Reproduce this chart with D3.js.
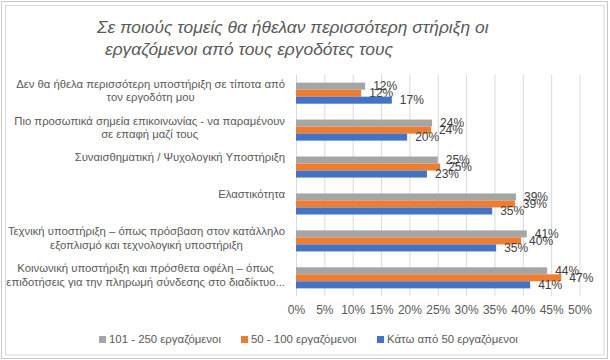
<!DOCTYPE html>
<html><head><meta charset="utf-8">
<script src="https://cdn.jsdelivr.net/npm/d3@7/dist/d3.min.js"></script>
<style>body{margin:0;background:#fff}svg{display:block}</style>
</head><body><svg id="c" width="610" height="360"></svg>
<script>
const titleLines = ["Σε ποιούς τομείς θα ήθελαν περισσότερη στήριξη οι", "εργαζόμενοι από τους εργοδότες τους"];
const categories = [
  ["Δεν θα ήθελα περισσότερη υποστήριξη σε τίποτα από", "τον εργοδότη μου"],
  ["Πιο προσωπικά σημεία επικοινωνίας - να παραμένουν", "σε επαφή μαζί τους"],
  ["Συναισθηματική / Ψυχολογική Υποστήριξη"],
  ["Ελαστικότητα"],
  ["Τεχνική υποστήριξη – όπως πρόσβαση στον κατάλληλο", "εξοπλισμό και τεχνολογική υποστήριξη"],
  ["Κοινωνική υποστήριξη και πρόσθετα οφέλη – όπως", "επιδοτήσεις για την πληρωμή σύνδεσης στο διαδίκτυο..."]
];
const seriesNames = ["101 - 250 εργαζόμενοι", "50 - 100 εργαζόμενοι", "Κάτω από 50 εργαζόμενοι"];
const seriesColors = ["#a5a5a5", "#ed7d31", "#4472c4"];
const values101_250 = [0.122, 0.240, 0.250, 0.388, 0.407, 0.443];
const values50_100  = [0.115, 0.238, 0.254, 0.386, 0.397, 0.468];
const valuesUnder50 = [0.169, 0.196, 0.231, 0.346, 0.353, 0.413];
const xTicks = [0, 0.05, 0.10, 0.15, 0.20, 0.25, 0.30, 0.35, 0.40, 0.45, 0.50];

const series = [values101_250, values50_100, valuesUnder50];
const svg = d3.select("#c");
const font = "'Liberation Sans', Arial, sans-serif";
const txt = "#595959";

// frame
svg.append("rect").attr("x",5.5).attr("y",5.5).attr("width",598.5).attr("height",349.5)
  .attr("fill","none").attr("stroke","#d9d9d9");
svg.append("rect").attr("x",1.5).attr("y",1.5).attr("width",606).attr("height",357)
  .attr("fill","none").attr("stroke","#c8c8c8");

const x = d3.scaleLinear().domain([0,0.5]).range([296,579.5]);
const idx = d3.range(categories.length);
const y = d3.scaleBand().domain(idx).range([74.7,296.3]).paddingInner(0.43).paddingOuter(0.215);
const ys = d3.scaleBand().domain(d3.range(series.length)).range([0,y.bandwidth()]);

// title
svg.append("g").selectAll("text").data(titleLines).join("text")
  .attr("x",(d,i)=> i===0 ? 97 : 105).attr("y",(d,i)=> 33 + i*22)
  .attr("font-family",font).attr("font-style","italic").attr("font-size",17.4)
  .attr("fill",txt).text(d=>d);

// grid
const xAxis = d3.axisBottom(x).tickValues(xTicks).tickFormat(d3.format(".0%")).tickSize(-(296.3-74.7)).tickPadding(9);
const gx = svg.append("g").attr("transform","translate(0,296.3)").call(xAxis);
gx.select(".domain").remove();
gx.selectAll(".tick line").attr("stroke","#d9d9d9");
gx.selectAll(".tick text").attr("font-family",font).attr("font-size",12).attr("fill",txt);

// bars
const g = svg.append("g");
series.forEach((vals,si)=>{
  g.selectAll(null).data(vals).join("rect")
    .attr("x",x(0)).attr("y",(d,i)=>y(i)+ys(si))
    .attr("width",d=>x(d)-x(0)).attr("height",ys.bandwidth())
    .attr("fill",seriesColors[si]);
  g.selectAll(null).data(vals).join("text")
    .attr("x",d=>x(d)+8).attr("y",(d,i)=>y(i)+ys(si)+ys.bandwidth()/2)
    .attr("dy","0.35em").attr("font-family",font).attr("font-size",12).attr("fill","#404040")
    .text(d=>d3.format(".0%")(d));
});

// category labels
categories.forEach((lines,i)=>{
  const c = y(i)+y.bandwidth()/2;
  const t = svg.append("text").attr("font-family",font).attr("font-size",11.3).attr("fill",txt).attr("text-anchor","middle");
  lines.forEach((l,k)=>t.append("tspan").text(l));
  const tspans = t.selectAll("tspan").nodes();
  const w = d3.max(tspans, n=>n.getComputedTextLength());
  const cx = 285 - w/2;
  tspans.forEach((n,k)=>{ d3.select(n).attr("x",cx).attr("y",c-9.5+k*13.3).attr("dy","0.35em"); });
});

// legend
const legX = [99, 241, 377];
const lg = svg.append("g");
seriesNames.forEach((s,i)=>{
  lg.append("rect").attr("x",legX[i]).attr("y",336).attr("width",7).attr("height",7).attr("fill",seriesColors[i]);
  lg.append("text").attr("x",legX[i]+10).attr("y",339.5).attr("dy","0.35em")
    .attr("font-family",font).attr("font-size",11.4).attr("fill",txt).text(s);
});
</script></body></html>
